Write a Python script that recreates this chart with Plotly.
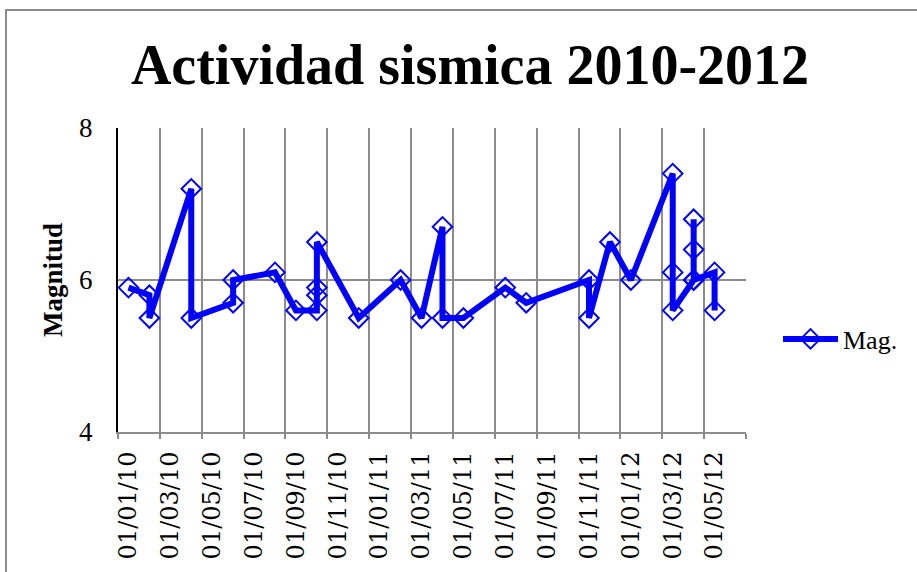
import plotly.graph_objects as go

# ---- data ----
event_months = [
    "2010-01", "2010-02", "2010-02", "2010-04", "2010-04", "2010-06", "2010-06",
    "2010-08", "2010-09", "2010-10", "2010-10", "2010-10", "2010-10", "2010-12",
    "2011-02", "2011-03", "2011-04", "2011-04", "2011-05", "2011-07", "2011-08",
    "2011-11", "2011-11", "2011-12", "2012-01", "2012-03", "2012-03", "2012-03",
    "2012-04", "2012-04", "2012-04", "2012-04", "2012-05", "2012-05",
]
magnitudes = [
    5.9, 5.8, 5.5, 7.2, 5.5, 5.7, 6.0,
    6.1, 5.6, 5.6, 5.8, 5.9, 6.5, 5.5,
    6.0, 5.5, 6.7, 5.5, 5.5, 5.9, 5.7,
    6.0, 5.5, 6.5, 6.0, 7.4, 6.1, 5.6,
    6.0, 6.8, 6.4, 6.0, 6.1, 5.6,
]
tick_labels = [
    "01/01/10", "01/03/10", "01/05/10", "01/07/10", "01/09/10", "01/11/10",
    "01/01/11", "01/03/11", "01/05/11", "01/07/11", "01/09/11", "01/11/11",
    "01/01/12", "01/03/12", "01/05/12",
]
series_name = "Mag."
title_text = "Actividad sismica 2010-2012"
y_title = "Magnitud"

# month index (Excel-style monthly base unit)
def month_index(s):
    y, m = s.split("-")
    return (int(y) - 2010) * 12 + int(m) - 1

x_vals = [month_index(s) for s in event_months]
n_months = 30
tick_vals = [2 * i for i in range(len(tick_labels))]
grid_vals = [2 * i - 0.5 for i in range(len(tick_labels) + 1)]

FONT = "Liberation Serif"
XFONT = "DejaVu Serif"
BLUE = "#0000FF"
GRID = "#8C8C8C"

W, H = 917, 572
L, R, T, B = 118, 171, 128, 140

fig = go.Figure()
fig.add_trace(go.Scatter(
    x=x_vals, y=magnitudes, mode="lines+markers", name=series_name,
    line=dict(color=BLUE, width=6),
    marker=dict(symbol="diamond-open", size=15, color=BLUE, line=dict(width=2, color=BLUE)),
))

fig.update_layout(
    width=W, height=H,
    margin=dict(l=L, r=R, t=T, b=B, pad=0, autoexpand=False),
    paper_bgcolor="white", plot_bgcolor="white",
    font=dict(family=FONT, color="black", size=26),
    title=dict(
        text="<b>" + title_text + "</b>",
        font=dict(family=FONT, size=56, color="black"),
        xref="container", yref="container",
        x=470 / W, xanchor="center",
        y=1 - 64 / H, yanchor="middle",
    ),
    showlegend=True,
    legend=dict(
        x=(778 - L) / (W - L - R), xanchor="left",
        y=(432 - 339) / 304, yanchor="middle",
        font=dict(family=FONT, size=26, color="black"),
        bgcolor="rgba(0,0,0,0)", itemwidth=55,
    ),
    xaxis=dict(
        range=[-0.5, n_months - 0.5], automargin=False,
        tickmode="array", tickvals=tick_vals, ticktext=tick_labels,
        tickangle=-90, showgrid=False, zeroline=False,
        showline=True, linecolor=GRID, linewidth=2,
        ticks="", ticklabelstandoff=8,
        tickfont=dict(family=XFONT, size=24, color="black"),
        minor=dict(tickmode="array", tickvals=grid_vals, showgrid=True,
                   gridcolor=GRID, gridwidth=2, ticks="outside", ticklen=5,
                   tickcolor=GRID, tickwidth=2),
    ),
    yaxis=dict(
        range=[4, 8], automargin=False, tickmode="array", tickvals=[4, 6, 8],
        showgrid=True, gridcolor=GRID, gridwidth=2, zeroline=False,
        showline=True, linecolor="black", linewidth=2,
        ticks="", ticklabelstandoff=18,
        tickfont=dict(family=FONT, size=27, color="black"),
        title=dict(text="<b>" + y_title + "</b>", standoff=9,
                   font=dict(family=FONT, size=27, color="black")),
    ),
)

# outer chart-area border (extends beyond the visible window like the original)
pw, ph = W - L - R, H - T - B
fig.add_shape(type="rect", xref="paper", yref="paper",
              x0=(6 - L) / pw, x1=(W + 20 - L) / pw,
              y0=(H - B - (H + 20)) / ph, y1=(H - B - 10) / ph,
              line=dict(color="#8C8C8C", width=2), fillcolor="rgba(0,0,0,0)",
              layer="below")

fig.write_html(
    "out.html",
    config={"displayModeBar": False},
    post_script="document.body.style.margin='0';document.body.style.overflow='hidden';",
)
